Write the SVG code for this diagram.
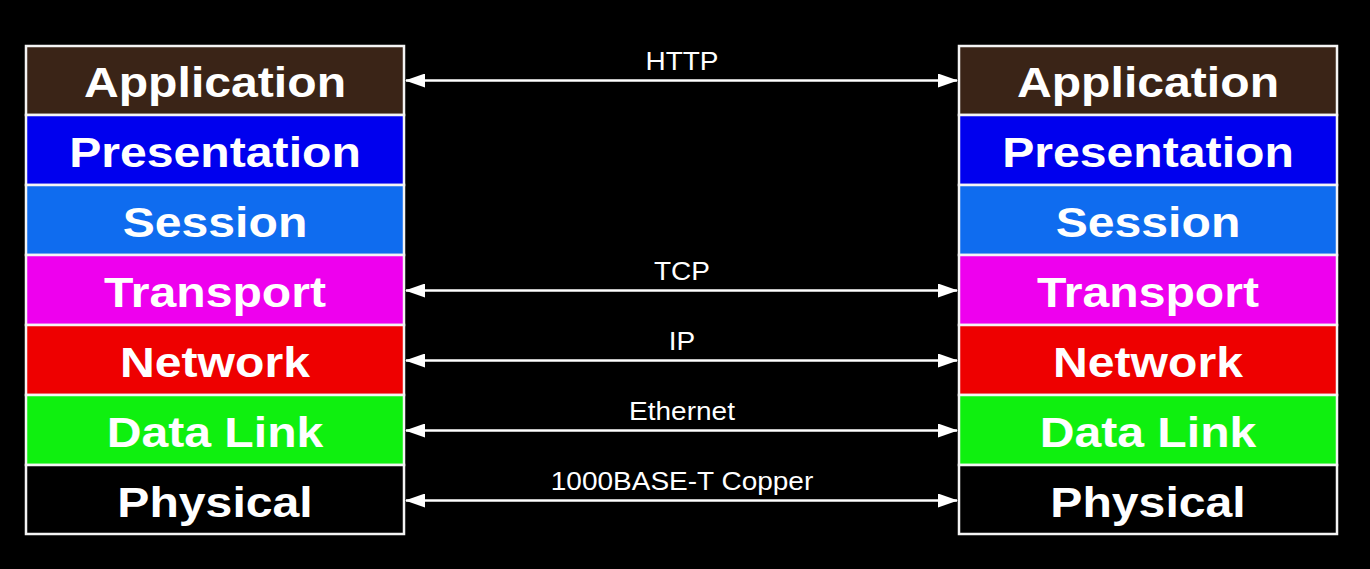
<svg xmlns="http://www.w3.org/2000/svg" width="1370" height="569" viewBox="0 0 1370 569">
<defs>
<style>
.layer{stroke:#f4f4f4;stroke-width:2.5}
.big{font-family:"Liberation Sans",Arial,sans-serif;font-weight:bold;font-size:43px;fill:#ffffff;text-anchor:middle}
.proto{font-family:"Liberation Sans",Arial,sans-serif;font-size:25px;fill:#ffffff;text-anchor:middle}
.conn{stroke:#ffffff;stroke-width:2.5;fill:none;marker-start:url(#ah);marker-end:url(#ah)}
</style>
<marker id="ah" viewBox="0 0 20 14" refX="19" refY="7" markerWidth="20" markerHeight="14" markerUnits="userSpaceOnUse" orient="auto-start-reverse">
<path d="M0,0 L20,7 L0,14 Z" fill="#ffffff"/>
</marker>
</defs>
<rect width="1370" height="569" fill="#000000"/>

<g id="left-stack">
<g id="left-application"><rect class="layer" x="26" y="46" width="378" height="69" fill="#3a2417"/><g transform="translate(215,97) scale(1.12,1)"><text class="big" x="0" y="0">Application</text></g></g>
<g id="left-presentation"><rect class="layer" x="26" y="115" width="378" height="70" fill="#0000ee"/><g transform="translate(215,167) scale(1.12,1)"><text class="big" x="0" y="0">Presentation</text></g></g>
<g id="left-session"><rect class="layer" x="26" y="185" width="378" height="70" fill="#0f6cef"/><g transform="translate(215,237) scale(1.12,1)"><text class="big" x="0" y="0">Session</text></g></g>
<g id="left-transport"><rect class="layer" x="26" y="255" width="378" height="70" fill="#ee00ee"/><g transform="translate(215,307) scale(1.12,1)"><text class="big" x="0" y="0">Transport</text></g></g>
<g id="left-network"><rect class="layer" x="26" y="325" width="378" height="70" fill="#ee0000"/><g transform="translate(215,377) scale(1.12,1)"><text class="big" x="0" y="0">Network</text></g></g>
<g id="left-datalink"><rect class="layer" x="26" y="395" width="378" height="70" fill="#0ff00f"/><g transform="translate(215,447) scale(1.12,1)"><text class="big" x="0" y="0">Data Link</text></g></g>
<g id="left-physical"><rect class="layer" x="26" y="465" width="378" height="69" fill="#000000"/><g transform="translate(215,517) scale(1.12,1)"><text class="big" x="0" y="0">Physical</text></g></g>
</g>

<g id="right-stack">
<g id="right-application"><rect class="layer" x="959" y="46" width="378" height="69" fill="#3a2417"/><g transform="translate(1148,97) scale(1.12,1)"><text class="big" x="0" y="0">Application</text></g></g>
<g id="right-presentation"><rect class="layer" x="959" y="115" width="378" height="70" fill="#0000ee"/><g transform="translate(1148,167) scale(1.12,1)"><text class="big" x="0" y="0">Presentation</text></g></g>
<g id="right-session"><rect class="layer" x="959" y="185" width="378" height="70" fill="#0f6cef"/><g transform="translate(1148,237) scale(1.12,1)"><text class="big" x="0" y="0">Session</text></g></g>
<g id="right-transport"><rect class="layer" x="959" y="255" width="378" height="70" fill="#ee00ee"/><g transform="translate(1148,307) scale(1.12,1)"><text class="big" x="0" y="0">Transport</text></g></g>
<g id="right-network"><rect class="layer" x="959" y="325" width="378" height="70" fill="#ee0000"/><g transform="translate(1148,377) scale(1.12,1)"><text class="big" x="0" y="0">Network</text></g></g>
<g id="right-datalink"><rect class="layer" x="959" y="395" width="378" height="70" fill="#0ff00f"/><g transform="translate(1148,447) scale(1.12,1)"><text class="big" x="0" y="0">Data Link</text></g></g>
<g id="right-physical"><rect class="layer" x="959" y="465" width="378" height="69" fill="#000000"/><g transform="translate(1148,517) scale(1.12,1)"><text class="big" x="0" y="0">Physical</text></g></g>
</g>

<g id="connectors">
<line class="conn" x1="406" y1="80.5" x2="957" y2="80.5"/>
<line class="conn" x1="406" y1="290.5" x2="957" y2="290.5"/>
<line class="conn" x1="406" y1="360.5" x2="957" y2="360.5"/>
<line class="conn" x1="406" y1="430.5" x2="957" y2="430.5"/>
<line class="conn" x1="406" y1="500.5" x2="957" y2="500.5"/>
<g transform="translate(682,70) scale(1.12,1)"><text class="proto" x="0" y="0">HTTP</text></g>
<g transform="translate(682,280) scale(1.12,1)"><text class="proto" x="0" y="0">TCP</text></g>
<g transform="translate(682,350) scale(1.12,1)"><text class="proto" x="0" y="0">IP</text></g>
<g transform="translate(682,420) scale(1.12,1)"><text class="proto" x="0" y="0">Ethernet</text></g>
<g transform="translate(682,490) scale(1.12,1)"><text class="proto" x="0" y="0">1000BASE-T Copper</text></g>
</g>
</svg>
